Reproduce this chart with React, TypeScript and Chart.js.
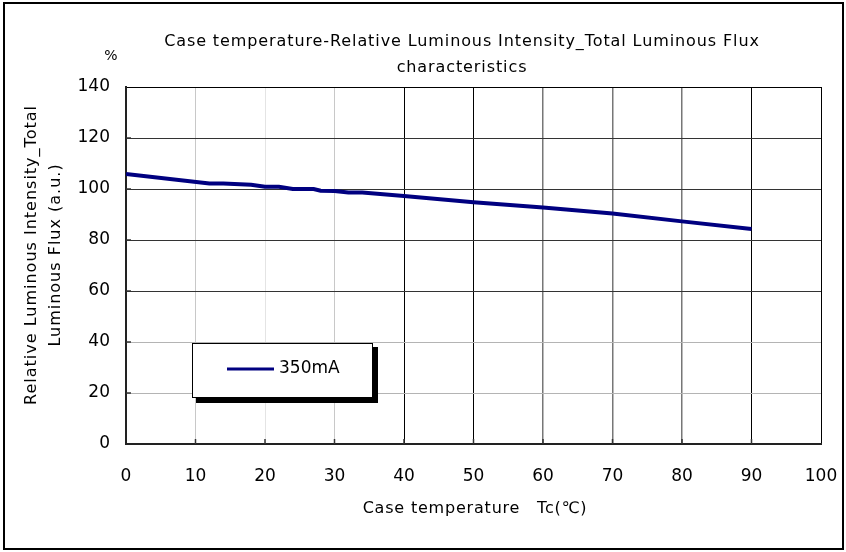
import React, { useEffect, useRef } from "react";
import { Chart, registerables } from "chart.js";

Chart.register(...registerables);

const temps = [0, 12, 14, 18, 20, 22, 24, 27, 28, 30, 32, 34, 40, 50, 60, 70, 80, 90];
const flux350 = [105.9, 102.2, 102.2, 101.7, 100.9, 100.9, 100.0, 100.0, 99.3, 99.2, 98.6, 98.6, 97.3, 94.8, 92.7, 90.4, 87.3, 84.3];
const seriesLabel = "350mA";
const titleLines = ["Case temperature-Relative Luminous Intensity_Total Luminous Flux", "characteristics"];
const yTitleLines = ["Relative Luminous Intensity_Total", "Luminous Flux (a.u.)"];
const xTitle = "Case temperature\u3000Tc(\u2103)";
const yUnit = "%";

const FONT = "'DejaVu Sans', 'Noto Sans CJK JP', sans-serif";

const vGridColor = (v: number) => {
  if (v === 10 || v === 30) return "#c8c8c8";
  if (v === 20) return "#e4e4e4";
  if (v === 60 || v === 70 || v === 80) return "#777777";
  return "#000000";
};
const hGridColor = (v: number) => {
  if (v === 20 || v === 40) return "#b4b4b4";
  if (v === 140) return "#000000";
  return "#333333";
};

const decor = {
  id: "decor",
  afterDraw(chart: any) {
    const ctx = chart.ctx;
    const area = chart.chartArea;
    const xs = chart.scales.x;
    const ys = chart.scales.y;
    ctx.save();
    // inner tick marks
    ctx.strokeStyle = "#333";
    ctx.lineWidth = 1.5;
    for (let v = 20; v < 140; v += 20) {
      const y = ys.getPixelForValue(v);
      ctx.beginPath();
      ctx.moveTo(area.left, y);
      ctx.lineTo(area.left + 5, y);
      ctx.stroke();
    }
    for (let v = 10; v < 100; v += 10) {
      const x = xs.getPixelForValue(v);
      ctx.beginPath();
      ctx.moveTo(x, area.bottom);
      ctx.lineTo(x, area.bottom - 5);
      ctx.stroke();
    }
    // texts
    ctx.fillStyle = "#000";
    ctx.textAlign = "center";
    ctx.textBaseline = "middle";
    ctx.font = `16px ${FONT}`;
    ctx.letterSpacing = "0.9px";
    ctx.fillText(titleLines[0], 462, 42);
    ctx.fillText(titleLines[1], 462, 68);
    ctx.letterSpacing = "0.8px";
    ctx.fillText(xTitle, 475, 509);
    ctx.letterSpacing = "0px";
    ctx.font = `14px ${FONT}`;
    ctx.fillText(yUnit, 111, 56);
    ctx.font = `16px ${FONT}`;
    ctx.letterSpacing = "1px";
    ctx.save();
    ctx.translate(32, 255);
    ctx.rotate(-Math.PI / 2);
    ctx.fillText(yTitleLines[0], 0, 0);
    ctx.fillText(yTitleLines[1], 0, 24);
    ctx.restore();
    ctx.letterSpacing = "0px";
    // legend
    const lx = 192, ly = 343, lw = 180, lh = 54;
    ctx.fillStyle = "#000";
    ctx.fillRect(lx + 4, ly + 4, lw + 2, lh + 2);
    ctx.fillStyle = "#fff";
    ctx.fillRect(lx, ly, lw, lh);
    ctx.strokeStyle = "#000";
    ctx.lineWidth = 1;
    ctx.strokeRect(lx + 0.5, ly + 0.5, lw, lh);
    ctx.strokeStyle = "#000080";
    ctx.lineWidth = 3;
    ctx.beginPath();
    ctx.moveTo(227, 369);
    ctx.lineTo(274, 369);
    ctx.stroke();
    ctx.fillStyle = "#000";
    ctx.textAlign = "left";
    ctx.font = `17px ${FONT}`;
    ctx.fillText(chart.data.datasets[0].label, 279, 369);
    // outer border
    ctx.strokeStyle = "#000";
    ctx.lineWidth = 2;
    ctx.strokeRect(4, 3, 839, 546);
    ctx.restore();
  },
};

export default function App() {
  const ref = useRef<HTMLCanvasElement>(null);
  useEffect(() => {
    document.body.style.margin = "0";
    const chart = new Chart(ref.current!, {
      type: "line",
      data: {
        datasets: [
          {
            label: seriesLabel,
            data: temps.map((t, i) => ({ x: t, y: flux350[i] })),
            borderColor: "#000080",
            borderWidth: 4,
            pointRadius: 0,
            tension: 0,
            fill: false,
          },
        ],
      },
      options: {
        animation: false,
        responsive: false,
        maintainAspectRatio: false,
        layout: { padding: { top: 87, right: 25, left: 0, bottom: 0 } },
        plugins: { legend: { display: false }, title: { display: false }, tooltip: { enabled: false } },
        scales: {
          x: {
            type: "linear",
            min: 0,
            max: 100,
            afterFit: (s: any) => { s.height = 108; s.paddingLeft = 0; s.paddingRight = 0; },
            ticks: { stepSize: 10, color: "#000", padding: 22, font: { family: FONT, size: 17 } },
            grid: { drawTicks: false, color: (c: any) => vGridColor(c.tick.value), lineWidth: (c: any) => (c.tick.value >= 60 && c.tick.value <= 80 ? 1.5 : 1) },
            border: { color: "#222", width: 2 },
          },
          y: {
            min: 0,
            max: 140,
            afterFit: (s: any) => { s.width = 126; s.paddingTop = 0; s.paddingBottom = 0; },
            ticks: { stepSize: 20, color: "#000", padding: 16, font: { family: FONT, size: 17 } },
            grid: { drawTicks: false, color: (c: any) => hGridColor(c.tick.value) },
            border: { color: "#222", width: 2 },
          },
        },
      },
      plugins: [decor],
    });
    return () => chart.destroy();
  }, []);
  return (
    <div style={{ width: 846, height: 552, background: "#fff" }}>
      <canvas ref={ref} width={846} height={552} />
    </div>
  );
}
